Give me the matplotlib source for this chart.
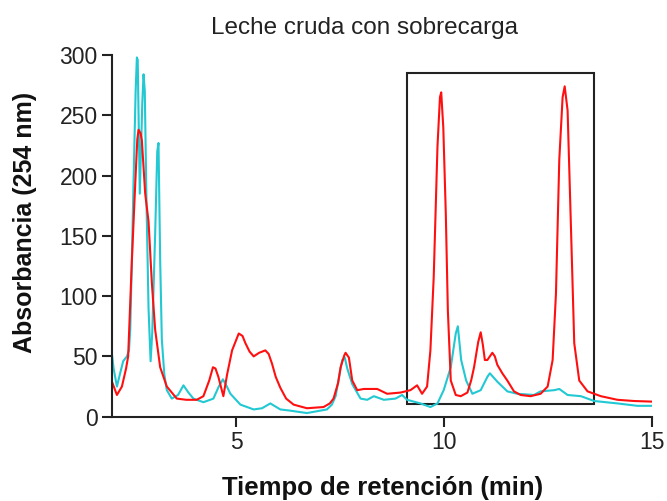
import matplotlib
matplotlib.use('Agg')
import matplotlib.pyplot as plt
from matplotlib.patches import Rectangle

# chromatogram traces (time in min, absorbance)
red_t = [2.0, 2.13, 2.25, 2.35, 2.40, 2.49, 2.57, 2.62, 2.65, 2.70, 2.73, 2.81, 2.89, 2.97,
         3.05, 3.17, 3.33, 3.57, 3.8, 4.05, 4.21, 4.35, 4.44, 4.50, 4.57, 4.69, 4.78, 4.90,
         5.06, 5.15, 5.22, 5.32, 5.42, 5.55, 5.70, 5.78, 5.86, 5.95, 6.06, 6.20, 6.38, 6.70,
         7.10, 7.25, 7.34, 7.45, 7.51, 7.60, 7.63, 7.71, 7.79, 7.91, 8.07, 8.39, 8.63, 8.95,
         9.19, 9.35, 9.47, 9.59, 9.67, 9.75, 9.84, 9.90, 9.93, 9.98, 10.04, 10.09, 10.16,
         10.28, 10.40, 10.56, 10.65, 10.72, 10.82, 10.88, 10.93, 10.98, 11.04, 11.16, 11.22,
         11.28, 11.40, 11.52, 11.68, 11.84, 12.08, 12.32, 12.49, 12.61, 12.69, 12.77, 12.85,
         12.90, 12.97, 13.05, 13.13, 13.25, 13.45, 13.77, 14.17, 14.57, 15.0]
red_a = [30, 18, 25, 40, 50, 130, 193, 230, 238, 235, 229, 185, 162, 111,
         72, 41, 25, 15, 14, 14, 17, 30, 41, 40, 33, 17, 35, 55,
         69, 67, 61, 54, 50, 53, 55, 52, 44, 33, 24, 15, 10, 7,
         8, 11, 15, 28, 41, 51, 53, 49, 30, 22, 23, 23, 19, 20,
         22, 26, 19, 25, 55, 116, 224, 265, 269, 240, 169, 88, 30,
         18, 17, 20, 30, 41, 62, 70, 60, 47, 47, 53, 50,
         43, 36, 30, 21, 18, 17, 19, 25, 47, 102, 213, 265,
         274, 254, 158, 61, 30, 21, 17, 14, 13, 12.5]

cyan_t = [2.0, 2.05, 2.13, 2.2, 2.28, 2.37, 2.42, 2.45, 2.49, 2.53, 2.58, 2.61, 2.63, 2.68,
          2.74, 2.77, 2.80, 2.84, 2.89, 2.94, 2.98, 3.05, 3.10, 3.13, 3.17, 3.21, 3.27, 3.33,
          3.45, 3.6, 3.73, 3.85, 3.97, 4.21, 4.45, 4.58, 4.68, 4.76, 4.86, 5.10, 5.42, 5.62,
          5.82, 6.06, 6.30, 6.70, 7.18, 7.30, 7.39, 7.50, 7.55, 7.61, 7.67, 7.79, 7.99, 8.15,
          8.31, 8.55, 8.83, 8.99, 9.11, 9.43, 9.67, 9.84, 9.99, 10.16, 10.28, 10.33, 10.41,
          10.53, 10.68, 10.88, 11.04, 11.10, 11.28, 11.52, 11.76, 12.16, 12.32, 12.65, 12.77,
          12.97, 13.29, 13.61, 14.17, 14.65, 15.0]
cyan_a = [55, 40, 25, 35, 46, 50, 55, 72, 130, 196, 270, 298, 296, 185,
          260, 284, 270, 180, 90, 46, 70, 152, 220, 227, 130, 64, 35, 22,
          15, 18, 26, 20, 15, 12, 15, 25, 31, 26, 19, 10, 6, 7,
          11, 6, 5, 3, 6, 10, 17, 38, 47, 49, 40, 27, 15, 14,
          17, 14, 15, 18, 14, 11, 8, 11, 22, 41, 69, 75, 47,
          30, 19, 22, 33, 36, 29, 21, 19, 18, 21, 22, 23,
          18, 17, 13, 11, 9, 9]

# highlighted region
box_t = [9.11, 13.61]
box_a = [10.5, 285]

plt.rcParams['font.family'] = ['Liberation Sans', 'DejaVu Sans']

fig = plt.figure(figsize=(6.67, 5.01), dpi=100)
ax = fig.add_axes([0.1672, 0.1683, 0.8103, 0.7219])

ax.plot(cyan_t, cyan_a, color='#22c8d2', lw=1.5)
ax.plot(red_t, red_a, color='#ff1010', lw=1.5)

ax.add_patch(Rectangle((box_t[0], box_a[0]), box_t[1] - box_t[0], box_a[1] - box_a[0],
                       fill=False, edgecolor='#222222', lw=1.5))

ax.set_xlim(2, 15)
ax.set_ylim(0, 300)
ax.set_xticks([5, 10, 15])
ax.set_yticks([0, 50, 100, 150, 200, 250, 300])

for s in ['top', 'right']:
    ax.spines[s].set_visible(False)
for s in ['left', 'bottom']:
    ax.spines[s].set_linewidth(1.5)
    ax.spines[s].set_color('#222222')
ax.tick_params(direction='out', length=7, width=1.5, color='#222222',
               labelsize=16.5, pad=3, labelcolor='#222222')

fig.text(0.546, 0.944, 'Leche cruda con sobrecarga', ha='center', va='center',
         fontsize=17.5, color='#222222')
fig.text(0.574, 0.026, 'Tiempo de retención (min)', ha='center', va='center',
         fontsize=18.5, fontweight='bold', color='#111111')
fig.text(0.0375, 0.557, 'Absorbancia (254 nm)', ha='center', va='center',
         rotation=90, fontsize=18, fontweight='bold', color='#111111')

fig.savefig('out.png', dpi=100)
